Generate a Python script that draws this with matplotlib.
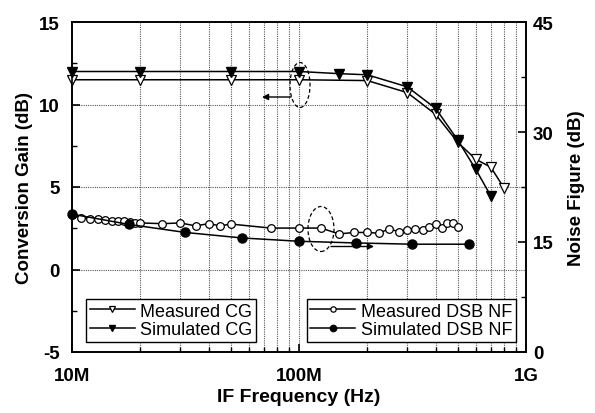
import matplotlib
matplotlib.use("Agg")
import matplotlib.pyplot as plt
from matplotlib.patches import Ellipse
from matplotlib.ticker import FixedLocator, NullFormatter, LogLocator

plt.rcParams['font.family'] = ['Liberation Sans', 'DejaVu Sans']

# Data
meas_cg_f = [10e6, 20e6, 50e6, 100e6, 200e6, 300e6, 400e6, 500e6, 600e6, 700e6, 800e6]
meas_cg = [11.5, 11.5, 11.5, 11.5, 11.45, 10.72, 9.4, 7.71, 6.69, 6.2, 4.94]

sim_cg_f = [10e6, 20e6, 50e6, 100e6, 150e6, 200e6, 300e6, 400e6, 500e6, 600e6, 700e6]
sim_cg = [12.0, 12.0, 12.0, 12.0, 11.87, 11.8, 11.07, 9.76, 7.85, 6.08, 4.46]

meas_nf_f = [10e6, 11e6, 12e6, 13e6, 14e6, 15e6, 16e6, 17e6, 18e6, 19e6, 20e6,
             25e6, 30e6, 35e6, 40e6, 45e6, 50e6, 75e6, 100e6, 125e6, 150e6,
             175e6, 200e6, 225e6, 250e6, 275e6, 300e6, 325e6, 350e6, 375e6,
             400e6, 425e6, 450e6, 475e6, 500e6]
meas_nf = [18.7, 18.3, 18.2, 18.1, 18.0, 17.9, 17.9, 17.8, 17.7, 17.6, 17.6,
           17.5, 17.6, 17.2, 17.5, 17.2, 17.45, 16.9, 16.9, 16.9, 16.1,
           16.3, 16.3, 16.2, 16.8, 16.4, 16.7, 16.8, 16.7, 17.1,
           17.4, 16.9, 17.6, 17.6, 17.1]

sim_nf_f = [10e6, 17.8e6, 31.6e6, 56.2e6, 100e6, 178e6, 316e6, 562e6]
sim_nf = [18.8, 17.4, 16.3, 15.55, 15.1, 14.87, 14.7, 14.7]

x_ticks = [1e7, 1e8, 1e9]
x_ticklabels = ['10M', '100M', '1G']
cg_ticks = [-5, 0, 5, 10, 15]
nf_ticks = [0, 15, 30, 45]

fig = plt.figure(figsize=(5.95, 4.14), dpi=100)
ax = fig.add_axes([72/595, 1-353/414, 454/595, 330/414])
ax2 = ax.twinx()

ax.set_xscale('log')
ax.set_xlim(1e7, 1e9)
ax.set_ylim(-5, 15)
ax2.set_ylim(0, 45)

grid_kw = dict(color='0.35', linestyle=(0, (1, 1)), linewidth=0.8)
for dec in [1e7, 1e8]:
    for m in range(1, 10):
        v = dec * m
        if v > 1e7:
            ax.axvline(v, zorder=0, **grid_kw)
for yv in [0, 5, 10]:
    ax.axhline(yv, zorder=0, **grid_kw)

lw = 1.1
l1, = ax.plot(meas_cg_f, meas_cg, '-', color='black', lw=lw, marker='v', ms=7,
              mfc='white', mec='black', mew=0.9, clip_on=False, zorder=3,
              label='Measured CG')
l2, = ax.plot(sim_cg_f, sim_cg, '-', color='black', lw=lw, marker='v', ms=7,
              mfc='black', mec='black', clip_on=False, zorder=3,
              label='Simulated CG')
l3, = ax2.plot(meas_nf_f, meas_nf, '-', color='black', lw=lw, marker='o', ms=5.5,
               mfc='white', mec='black', mew=0.9, clip_on=False, zorder=3,
               label='Measured DSB NF')
l4, = ax2.plot(sim_nf_f, sim_nf, '-', color='black', lw=lw, marker='o', ms=6.5,
               mfc='black', mec='black', clip_on=False, zorder=3,
               label='Simulated DSB NF')

ax.set_xticks(x_ticks)
ax.set_xticklabels(x_ticklabels)
ax.xaxis.set_minor_locator(LogLocator(base=10, subs=range(2, 10)))
ax.xaxis.set_minor_formatter(NullFormatter())
ax.set_yticks(cg_ticks)
ax.set_yticklabels([str(t) for t in cg_ticks])
ax.yaxis.set_minor_locator(FixedLocator([-2.5, 2.5, 7.5, 12.5]))
ax2.set_yticks(nf_ticks)
ax2.yaxis.set_minor_locator(FixedLocator([7.5, 22.5, 37.5]))

for a in (ax, ax2):
    a.tick_params(which='major', direction='in', length=6, width=1.2, labelsize=13.5)
    a.tick_params(which='minor', direction='in', length=3.5, width=1.0)
    for lab in a.get_xticklabels() + a.get_yticklabels():
        lab.set_fontweight('bold')
    for s in a.spines.values():
        s.set_linewidth(1.2)
ax.tick_params(axis='x', which='both', top=False, pad=11)
ax.tick_params(axis='y', which='both', right=False, pad=9)
ax2.tick_params(axis='y', which='both', pad=5)

ax.set_xlabel('IF Frequency (Hz)', fontsize=14, fontweight='bold', labelpad=3)
ax.set_ylabel('Conversion Gain (dB)', fontsize=13.5, fontweight='bold', labelpad=4)
ax2.set_ylabel('Noise Figure (dB)', fontsize=13.5, fontweight='bold', labelpad=10)

e1 = Ellipse(((300-72)/454, (353-86)/330), 20/454, 45/330, transform=ax.transAxes,
             fill=False, ls=(0, (3, 2)), lw=0.9, color='black', zorder=4)
ax.add_patch(e1)
e2 = Ellipse(((321-72)/454, (353-230)/330), 26/454, 45/330, transform=ax.transAxes,
             fill=False, ls=(0, (3, 2)), lw=0.9, color='black', zorder=4)
ax.add_patch(e2)
ax.annotate('', xy=((262-72)/454, (353-98)/330), xytext=((291-72)/454, (353-98)/330),
            xycoords='axes fraction', textcoords='axes fraction',
            arrowprops=dict(arrowstyle='-|>', color='black', lw=1.0, mutation_scale=9,
                            shrinkA=0, shrinkB=0))
ax.annotate('', xy=((374-72)/454, (353-247.5)/330), xytext=((331-72)/454, (353-247.5)/330),
            xycoords='axes fraction', textcoords='axes fraction',
            arrowprops=dict(arrowstyle='-|>', color='black', lw=1.0, mutation_scale=9,
                            shrinkA=0, shrinkB=0))

leg_kw = dict(fontsize=13, frameon=True, fancybox=False, edgecolor='black',
              handlelength=2.5, handletextpad=0.3, borderaxespad=0, borderpad=0.2,
              labelspacing=0.1, markerscale=0.7, numpoints=1, framealpha=1)
leg1 = ax.legend(handles=[l1, l2], loc='lower left',
                 bbox_to_anchor=((86-72)/454, (353-343)/330), **leg_kw)
leg1.get_frame().set_linewidth(1.0)
leg2 = ax2.legend(handles=[l3, l4], loc='lower right',
                  bbox_to_anchor=((516-72)/454, (353-343)/330), **leg_kw)
leg2.get_frame().set_linewidth(1.0)

fig.savefig('out.png', dpi=100)
